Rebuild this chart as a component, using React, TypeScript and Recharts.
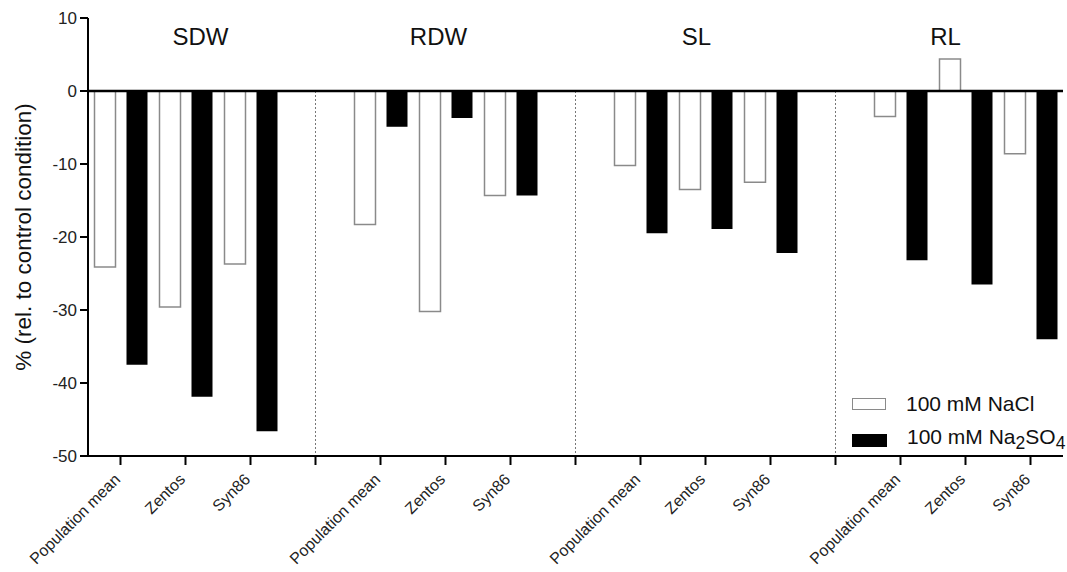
import React from 'react';
import {
  BarChart, Bar, XAxis, YAxis, Legend, ReferenceLine, Label,
} from 'recharts';

// traits and lines
const traits = ['SDW', 'RDW', 'SL', 'RL'];
const lines = ['Population mean', 'Zentos', 'Syn86'];
const naclValues = [
  [-24.1, -29.6, -23.7],
  [-18.3, -30.2, -14.3],
  [-10.2, -13.5, -12.5],
  [-3.5, 4.4, -8.6],
];
const na2so4Values = [
  [-37.5, -41.9, -46.6],
  [-4.9, -3.7, -14.3],
  [-19.5, -18.9, -22.2],
  [-23.2, -26.5, -34.0],
];
const yTicks = [-50, -40, -30, -20, -10, 0, 10];

// small nudges for the trait titles
const titleOffsets = [15, -7, -9, -20];

const FONT = '"Liberation Sans", Arial, sans-serif';

type Row = { key: string; label: string; nacl?: number; na2so4?: number };

const rows: Row[] = [];
traits.forEach((t, gi) => {
  lines.forEach((l, li) => {
    rows.push({ key: `${t}-${l}`, label: l, nacl: naclValues[gi][li], na2so4: na2so4Values[gi][li] });
  });
  if (gi < traits.length - 1) rows.push({ key: `${t}-sep`, label: '' });
});

const labelByKey: Record<string, string> = {};
rows.forEach((r) => { labelByKey[r.key] = r.label; });

const AngledTick = (props: any) => {
  const { x, y, payload } = props;
  return (
    <g transform={`translate(${x},${y})`}>
      <text
        x={0}
        y={0}
        dx={-9}
        dy={10}
        textAnchor="end"
        transform="rotate(-45)"
        fontSize={16}
        fontFamily={FONT}
        fill="#222"
      >
        {labelByKey[payload.value]}
      </text>
    </g>
  );
};

const renderLegend = () => (
  <div style={{ fontFamily: FONT, fontSize: 21, color: '#111' }}>
    <div style={{ display: 'flex', alignItems: 'center', height: 36 }}>
      <span style={{ display: 'inline-block', width: 32, height: 10, border: '1.5px solid #8a8a8a', background: '#fff' }} />
      <span style={{ marginLeft: 20 }}>100 mM NaCl</span>
    </div>
    <div style={{ display: 'flex', alignItems: 'center', height: 36 }}>
      <span style={{ display: 'inline-block', width: 35, height: 13, background: '#000' }} />
      <span style={{ marginLeft: 20 }}>100 mM Na<sub>2</sub>SO<sub>4</sub></span>
    </div>
  </div>
);

const App: React.FC = () => {
  return (
    <div style={{ position: 'absolute', left: 0, top: 0, width: 1067, height: 572, background: '#fff' }}>
      <BarChart
        width={1067}
        height={572}
        data={rows}
        margin={{ top: 18, right: 4, bottom: 6, left: 0 }}
        barCategoryGap="10%"
        barGap={11}
      >
        <XAxis
          dataKey="key"
          interval={0}
          height={110}
          tick={<AngledTick />}
          tickSize={9}
          tickLine={{ stroke: '#000', strokeWidth: 2 }}
          axisLine={{ stroke: '#000', strokeWidth: 2 }}
        />
        <YAxis
          type="number"
          domain={[-50, 10]}
          ticks={yTicks}
          width={88}
          tickSize={8}
          tickMargin={3}
          tick={{ fontSize: 17, fontFamily: FONT, fill: '#222' }}
          tickLine={{ stroke: '#000', strokeWidth: 2 }}
          axisLine={{ stroke: '#000', strokeWidth: 2 }}
        >
          <Label
            content={(p: any) => {
              const vb = p.viewBox || { x: 0, y: 18, height: 438 };
              const cx = vb.x + 23;
              const cy = vb.y + vb.height / 2;
              return (
                <text
                  x={cx}
                  y={cy}
                  transform={`rotate(-90 ${cx} ${cy})`}
                  textAnchor="middle"
                  dominantBaseline="central"
                  fontSize={22.5}
                  fontFamily={FONT}
                  fill="#111"
                >
                  % (rel. to control condition)
                </text>
              );
            }}
          />
        </YAxis>
        <Legend
          layout="vertical"
          align="center"
          verticalAlign="middle"
          content={renderLegend}
          wrapperStyle={{ left: 852, top: 386, width: 'auto' }}
        />
        {traits.slice(0, -1).map((t) => (
          <ReferenceLine
            key={`sep-${t}`}
            segment={[{ x: `${t}-sep`, y: 0 }, { x: `${t}-sep`, y: -50 }]}
            stroke="#777"
            strokeDasharray="2 2"
            strokeWidth={1}
          />
        ))}
        {traits.map((t, i) => (
          <ReferenceLine
            key={`title-${t}`}
            x={`${t}-Zentos`}
            stroke="none"
            label={{
              value: t,
              position: 'insideTop',
              offset: 10,
              dx: titleOffsets[i],
              fontSize: 24,
              fontFamily: FONT,
              fill: '#111',
            }}
          />
        ))}
        <Bar dataKey="nacl" name="100 mM NaCl" fill="#fff" stroke="#8a8a8a" strokeWidth={1.5} isAnimationActive={false} />
        <Bar dataKey="na2so4" name="100 mM Na2SO4" fill="#000" isAnimationActive={false} />
        <ReferenceLine y={0} stroke="#000" strokeWidth={2.5} />
      </BarChart>
    </div>
  );
};

export default App;
